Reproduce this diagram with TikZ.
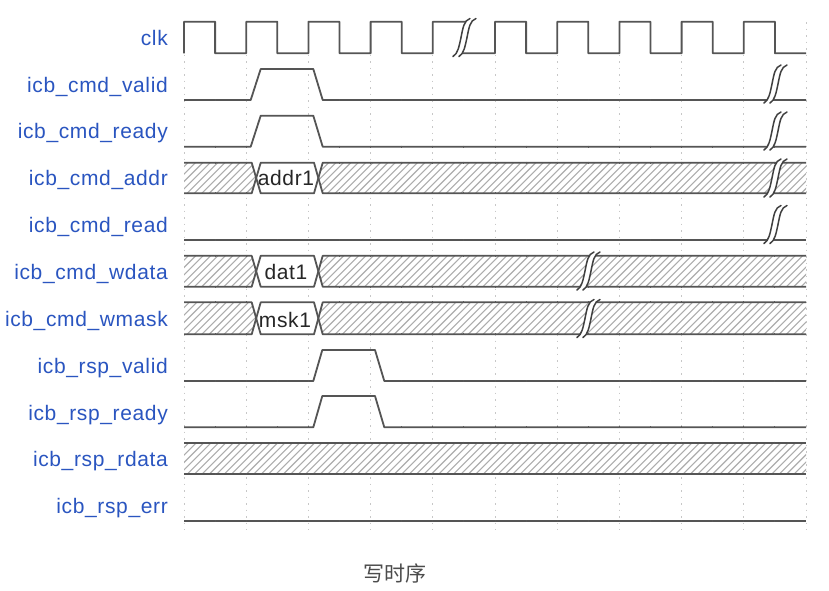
\documentclass[tikz,border=0pt]{standalone}
\usepackage{fontspec}
\setmainfont{Liberation Sans}
\newfontfamily\lblfont[LetterSpace=3]{Liberation Sans}
\newfontfamily\cjkfont{Noto Sans CJK SC}
\definecolor{sigblue}{HTML}{2A55C0}
\definecolor{wave}{HTML}{555555}
\tikzset{
  siglabel/.style={anchor=base east,inner sep=0pt,text=sigblue,font=\lblfont\fontsize{21}{24}\selectfont},
  datalabel/.style={anchor=base,inner sep=0pt,text=black!85,font=\lblfont\fontsize{21}{24}\selectfont},
  caption/.style={anchor=center,inner sep=0pt,text=black!70,font=\cjkfont\fontsize{21}{25}\selectfont},
  waveline/.style={draw=wave,line width=1.8pt,line join=round},
  gridline/.style={draw=black!22,line width=1pt,dash pattern=on 1.5pt off 5pt},
  hatchline/.style={draw=black!32,line width=1.1pt},
  tickmark/.style={draw=black!65,line width=0.9pt},
  breakline/.style={draw=black!75,line width=1.5pt,line cap=round}
}
% hatch inside a clipped region between two rails
\newcommand{\hatchfill}[3]{%
  \begin{scope}
    \clip #1;
    \foreach \hx in {150,157.4,...,830} {
      \draw[hatchline] (\hx,#3) -- ({\hx+#3-#2},#2);
    }
  \end{scope}}
% bus rail pair, no data box
\newcommand{\busfull}[2]{%
  \fill[white] (184,#1) rectangle (806,#2);
  \hatchfill{(184,#1) rectangle (806,#2)}{#1}{#2}
  \draw[waveline] (184,#1) -- (806,#1);
  \draw[waveline] (184,#2) -- (806,#2);}
% bus rail pair with a data box
\newcommand{\busbox}[2]{%
  \pgfmathsetmacro{\mm}{(#1+#2)/2}
  \fill[white] (184,#1) rectangle (806,#2);
  \hatchfill{(184,#1) -- (251.7,#1) -- (256.2,\mm) -- (251.7,#2) -- (184,#2) -- cycle}{#1}{#2}
  \hatchfill{(806,#1) -- (322.7,#1) -- (318.3,\mm) -- (322.7,#2) -- (806,#2) -- cycle}{#1}{#2}
  \draw[waveline] (184,#1) -- (251.7,#1) -- (260.7,#2) -- (314,#2) -- (322.7,#1) -- (806,#1);
  \draw[waveline] (184,#2) -- (251.7,#2) -- (260.7,#1) -- (314,#1) -- (322.7,#2) -- (806,#2);}
% break mark: lower left end at (#1,#2)
\newcommand{\breakmark}[2]{%
  \fill[white] (#1,#2) .. controls ({#1+5},{#2-3}) and ({#1+6},{#2-10}) .. ({#1+8},{#2-19})
     .. controls ({#1+10},{#2-29}) and ({#1+11},{#2-36}) .. ({#1+17},{#2-38})
     -- ({#1+23},{#2-38}) .. controls ({#1+17},{#2-36}) and ({#1+16},{#2-29}) .. ({#1+14},{#2-19})
     .. controls ({#1+12},{#2-10}) and ({#1+11},{#2-3}) .. ({#1+6},#2) -- cycle;
  \foreach \bo in {0,6} {
    \draw[breakline] ({#1+\bo},#2) .. controls ({#1+\bo+5},{#2-3}) and ({#1+\bo+6},{#2-10}) .. ({#1+\bo+8},{#2-19})
      .. controls ({#1+\bo+10},{#2-29}) and ({#1+\bo+11},{#2-36}) .. ({#1+\bo+17},{#2-38});
  }}
\begin{document}
\begin{tikzpicture}[x=1pt,y=-1pt]
\useasboundingbox (0,0) rectangle (829,590);
\fill[white] (0,0) rectangle (829,590);
% grid
\foreach \k in {0,...,10} {
  \draw[gridline] ({184+62.2*\k},22) -- ({184+62.2*\k},530);
}
% buses
\busbox{162.7}{193.3}
\busbox{255.8}{286.7}
\busbox{302.3}{334.3}
\busfull{442.7}{474.3}
% clk: first part, up to the break
\draw[waveline] (184,53.3)
  \foreach \k in {0,...,3} {
    -- ({184+62.2*\k},21.7) -- ({215.1+62.2*\k},21.7) -- ({215.1+62.2*\k},53.3) -- ({246.2+62.2*\k},53.3)
  } -- (432.8,21.7) -- (468,21.7);
% clk: second part, after the break
\draw[waveline] (459,53.3) -- (495,53.3)
  \foreach \k in {5,...,9} {
    -- ({184+62.2*\k},21.7) -- ({215.1+62.2*\k},21.7) -- ({215.1+62.2*\k},53.3) -- ({246.2+62.2*\k},53.3)
  };
% single-bit signals
\draw[waveline] (184,100) -- (250.7,100) -- (260.7,69) -- (313.3,69) -- (322.7,100) -- (806,100);
\draw[waveline] (184,146.7) -- (250.7,146.7) -- (260.7,115.7) -- (313.3,115.7) -- (322.7,146.7) -- (806,146.7);
\draw[waveline] (184,240) -- (806,240);
\draw[waveline] (184,381) -- (313.3,381) -- (322.3,350) -- (375,350) -- (384.3,381) -- (806,381);
\draw[waveline] (184,427.3) -- (313.3,427.3) -- (322.3,396) -- (375,396) -- (384.3,427.3) -- (806,427.3);
\draw[waveline] (184,521) -- (806,521);
% small ticks on the rails (only where the rail is drawn)
\foreach \ry in {240,442.7,474.3,521} {
  \foreach \k in {1,...,19} {
    \draw[tickmark] ({184+31.1*\k},\ry-1) -- ({184+31.1*\k},\ry+1);
  }
}
\foreach \ry in {100,146.7,162.7,193.3,255.8,286.7,302.3,334.3} {
  \foreach \k in {1,2,5,6,...,19} {
    \draw[tickmark] ({184+31.1*\k},\ry-1) -- ({184+31.1*\k},\ry+1);
  }
}
\foreach \ry in {381,427.3} {
  \foreach \k in {1,2,3,4,7,8,...,19} {
    \draw[tickmark] ({184+31.1*\k},\ry-1) -- ({184+31.1*\k},\ry+1);
  }
}
% breaks
\breakmark{453}{56.5}
\breakmark{764}{103}
\breakmark{764}{150}
\breakmark{764}{197}
\breakmark{764}{243.5}
\breakmark{577}{290}
\breakmark{577}{337.5}
% labels
\node[siglabel] (clk) at (168,45) {clk};
\node[siglabel] (cvalid) at (168,92) {icb\_cmd\_valid};
\node[siglabel] (cready) at (168,138.7) {icb\_cmd\_ready};
\node[siglabel] (caddr) at (168,185) {icb\_cmd\_addr};
\node[siglabel] (cread) at (168,232) {icb\_cmd\_read};
\node[siglabel] (cwdata) at (168,279) {icb\_cmd\_wdata};
\node[siglabel] (cwmask) at (168,326.5) {icb\_cmd\_wmask};
\node[siglabel] (rvalid) at (168,373) {icb\_rsp\_valid};
\node[siglabel] (rready) at (168,420) {icb\_rsp\_ready};
\node[siglabel] (rrdata) at (168,466) {icb\_rsp\_rdata};
\node[siglabel] (rerr) at (168,513) {icb\_rsp\_err};
\node[datalabel] (d1) at (286,185.7) {addr1};
\node[datalabel] (d2) at (286,279) {dat1};
\node[datalabel] (d3) at (285,327) {msk1};
\node[caption] (cap) at (394.5,573) {写时序};
\end{tikzpicture}
\end{document}
